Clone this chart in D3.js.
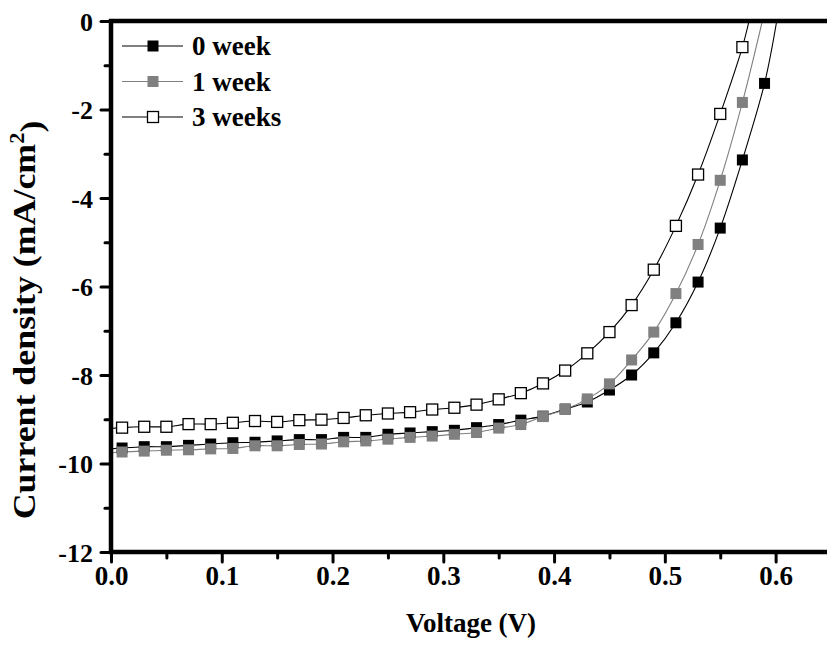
<!DOCTYPE html>
<html>

<head>
    <meta charset="utf-8">
    <script src="https://d3js.org/d3.v7.min.js"></script>
    <style>
        body { margin: 0; background: #fff; }
        text { font-family: "Liberation Serif", "Times New Roman", serif; font-weight: bold; }
    </style>
</head>

<body>
    <div id="my_dataviz"></div>

    <script>
        // voltage points where markers sit (V)
        const voltage = [0.01, 0.03, 0.05, 0.07, 0.09, 0.11, 0.13, 0.15, 0.17, 0.19,
            0.21, 0.23, 0.25, 0.27, 0.29, 0.31, 0.33, 0.35, 0.37, 0.39,
            0.41, 0.43, 0.45, 0.47, 0.49, 0.51, 0.53, 0.55, 0.57, 0.59]

        // current density (mA/cm2) for each ageing time
        const week0 = [-9.65, -9.62, -9.62, -9.59, -9.56, -9.53, -9.52, -9.49, -9.46, -9.46,
            -9.41, -9.41, -9.34, -9.31, -9.28, -9.25, -9.19, -9.12, -9.02, -8.93,
            -8.77, -8.61, -8.34, -8.00, -7.50, -6.82, -5.90, -4.68, -3.14, -1.41]
        const week1 = [-9.74, -9.72, -9.70, -9.69, -9.67, -9.66, -9.60, -9.60, -9.57, -9.56,
            -9.51, -9.49, -9.45, -9.41, -9.38, -9.34, -9.30, -9.20, -9.12, -8.94,
            -8.78, -8.54, -8.20, -7.66, -7.03, -6.16, -5.05, -3.60, -1.84]
        const week3 = [-9.19, -9.17, -9.17, -9.11, -9.11, -9.08, -9.04, -9.06, -9.02, -9.01,
            -8.97, -8.91, -8.87, -8.84, -8.78, -8.74, -8.67, -8.55, -8.41, -8.19,
            -7.90, -7.51, -7.03, -6.42, -5.62, -4.63, -3.47, -2.10, -0.59]

        // line end points: short-circuit current at 0 V and open-circuit voltage at 0 mA/cm2
        const jsc = [-9.67, -9.76, -9.21]
        const voc = [0.601, 0.588, 0.576]

        const seriesNames = ["0 week", "1 week", "3 weeks"]
        const xTicks = [0, 0.1, 0.2, 0.3, 0.4, 0.5, 0.6]
        const yTicks = [0, -2, -4, -6, -8, -10, -12]

        const fontFamily = "'Liberation Serif', 'Times New Roman', serif"

        // set the dimensions and margins of the graph
        const margin = { top: 21, right: 0, bottom: 100, left: 111 },
            width = 720,
            height = 531;

        const svg = d3.select("#my_dataviz")
            .append("svg")
            .attr("width", 827)
            .attr("height", 651)
            .append("g")
            .attr("transform", "translate(" + margin.left + "," + margin.top + ")");

        const x = d3.scaleLinear().domain([0, 0.65]).range([0, width])
        const y = d3.scaleLinear().domain([-12, 0]).range([height, 0])

        const styles = [
            { line: "#000", fill: "#000", stroke: "none" },
            { line: "#808080", fill: "#808080", stroke: "none" },
            { line: "#000", fill: "#fff", stroke: "#000" }
        ]

        const allSeries = [week0, week1, week3].map(function (vals, i) {
            const pts = vals.map(function (v, k) { return { v: voltage[k], j: v } })
            return { name: seriesNames[i], pts: pts, linePts: [{ v: 0, j: jsc[i] }].concat(pts, [{ v: voc[i], j: 0 }]) }
        })

        // clip so curves stop at the frame
        svg.append("clipPath").attr("id", "clip")
            .append("rect").attr("width", width).attr("height", height)

        const line = d3.line()
            .x(function (d) { return x(d.v) })
            .y(function (d) { return y(d.j) })
            .curve(d3.curveCatmullRom)

        const plot = svg.append("g").attr("clip-path", "url(#clip)")

        allSeries.forEach(function (s, i) {
            plot.append("path")
                .attr("d", line(s.linePts))
                .attr("fill", "none")
                .attr("stroke", styles[i].line)
                .attr("stroke-width", 1.1)
        })

        const size = 11
        allSeries.forEach(function (s, i) {
            plot.append("g")
                .selectAll("rect")
                .data(s.pts)
                .enter().append("rect")
                .attr("x", function (d) { return x(d.v) - size / 2 })
                .attr("y", function (d) { return y(d.j) - size / 2 })
                .attr("width", size)
                .attr("height", size)
                .attr("fill", styles[i].fill)
                .attr("stroke", styles[i].stroke)
                .attr("stroke-width", 1.3)
        })

        // X axis (bottom) with minor ticks
        const xAxis = svg.append("g").attr("transform", "translate(0," + height + ")")
        xAxis.call(d3.axisBottom(x).tickValues(xTicks).tickSize(10).tickFormat(d3.format(".1f")))
        xAxis.append("g").call(d3.axisBottom(x).tickValues([0.05, 0.15, 0.25, 0.35, 0.45, 0.55, 0.65]).tickSize(6).tickFormat(""))
        xAxis.attr("font-family", fontFamily).attr("font-weight", "bold")
        xAxis.selectAll("text").attr("dy", null).attr("y", 33)
            .style("font-family", fontFamily).style("font-size", "27px").style("font-weight", "bold").attr("fill", "#000")

        // Y axis (left) with minor ticks, plain hyphen as minus
        const yAxis = svg.append("g")
        yAxis.call(d3.axisLeft(y).tickValues(yTicks).tickSize(10).tickFormat(function (d) { return d === 0 ? "0" : "-" + Math.abs(d) }))
        yAxis.append("g").call(d3.axisLeft(y).tickValues([-1, -3, -5, -7, -9, -11]).tickSize(6).tickFormat(""))
        yAxis.attr("font-family", fontFamily).attr("font-weight", "bold")
        yAxis.selectAll("text").attr("x", -18).attr("dy", "0.35em")
            .style("font-family", fontFamily).style("font-size", "26px").style("font-weight", "bold").attr("fill", "#000")

        svg.selectAll(".domain").remove()
        svg.selectAll(".tick line").attr("stroke", "#000").attr("stroke-width", 3).attr("stroke-linecap", "round")

        // frame
        svg.append("rect")
            .attr("width", width).attr("height", height)
            .attr("fill", "none").attr("stroke", "#000").attr("stroke-width", 4.5)

        // axis titles
        svg.append("text")
            .attr("x", 471 - margin.left).attr("y", 632 - margin.top)
            .attr("text-anchor", "middle")
            .style("font-size", "27px")
            .text("Voltage (V)")

        const yTitle = svg.append("text")
            .attr("transform", "translate(" + (35 - margin.left) + "," + (320 - margin.top) + ") rotate(-90) scale(1.12,1)")
            .attr("text-anchor", "middle")
            .style("font-size", "32px")
        yTitle.append("tspan").text("Current density (mA/cm")
        yTitle.append("tspan").attr("dy", "-0.55em").style("font-size", "20px").text("2")
        yTitle.append("tspan").attr("dy", "0.55em").text(")")

        // legend
        const legend = svg.append("g")
            .selectAll("g")
            .data(allSeries)
            .enter().append("g")
            .attr("transform", function (d, i) { return "translate(0," + (25 + i * 35.5) + ")" })
        legend.append("line")
            .attr("x1", 11).attr("x2", 72)
            .attr("stroke", function (d, i) { return styles[i].line })
            .attr("stroke-width", 1.1)
        legend.append("rect")
            .attr("x", 42 - size / 2).attr("y", -size / 2)
            .attr("width", size).attr("height", size)
            .attr("fill", function (d, i) { return styles[i].fill })
            .attr("stroke", function (d, i) { return styles[i].stroke })
            .attr("stroke-width", 1.3)
        legend.append("text")
            .attr("x", 81).attr("dy", "0.35em")
            .style("font-size", "27px")
            .text(function (d) { return d.name })
    </script>
</body>

</html>
